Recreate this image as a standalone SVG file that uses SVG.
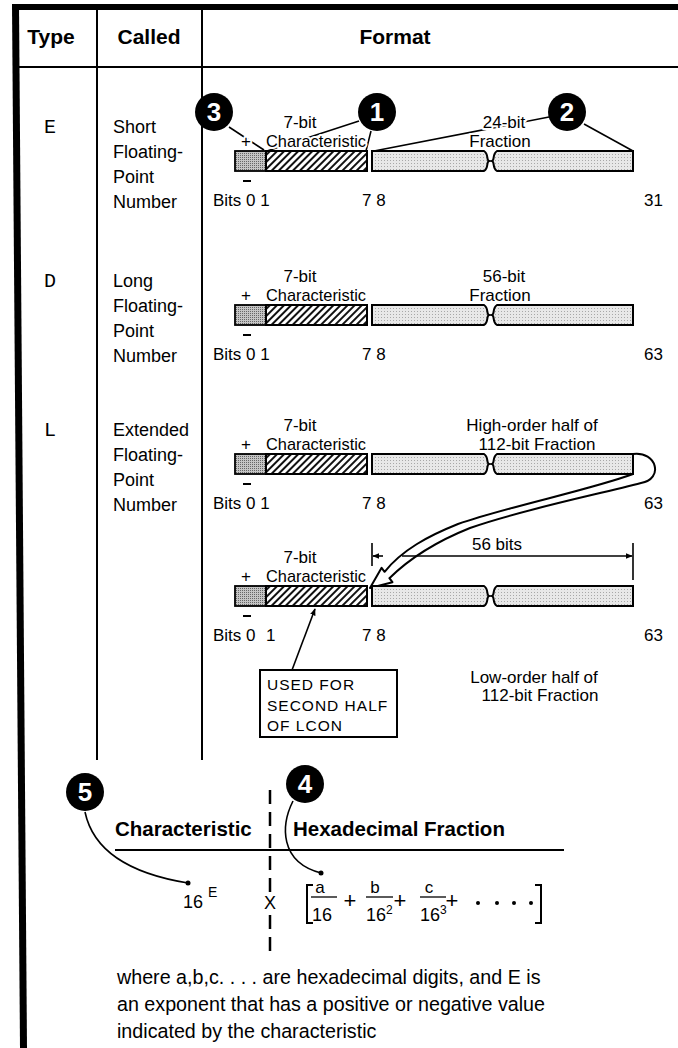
<svg xmlns="http://www.w3.org/2000/svg" xmlns:xlink="http://www.w3.org/1999/xlink" width="678" height="1048" viewBox="0 0 678 1048">
<style>
text{font-family:"Liberation Sans",Arial,sans-serif;fill:#000}
.h{font-weight:bold;font-size:21px;text-anchor:middle}
.ty{font-family:"Liberation Mono","Courier New",monospace;font-size:20px;text-anchor:middle}
.c{font-size:18px}
.l{font-size:17px}
.halo{paint-order:stroke;stroke:#fff;stroke-width:4px;stroke-linejoin:round}
.m{text-anchor:middle}
.e{text-anchor:end}
.rule{stroke:#000;stroke-width:2;fill:none}
.lead{stroke:#000;stroke-width:1.6;fill:none}
.num{font-family:"Liberation Sans Narrow","Liberation Sans",sans-serif;font-weight:bold;font-size:26px;fill:#fff;text-anchor:middle}
.b{font-weight:bold;font-size:20.5px}
.f{font-size:18px}
.box{font-size:15.5px;letter-spacing:1px}
.note{font-size:19.7px}
</style>
<defs>
<pattern id="hatch" patternUnits="userSpaceOnUse" width="5" height="5" patternTransform="rotate(45)">
<rect width="5" height="5" fill="#fff"/>
<rect width="2" height="5" fill="#111"/>
</pattern>
<pattern id="sd" patternUnits="userSpaceOnUse" width="2" height="2">
<rect width="2" height="2" fill="#c4c4c4"/>
<rect width="1" height="1" fill="#666"/>
</pattern>
<pattern id="ld" patternUnits="userSpaceOnUse" width="3" height="3">
<rect width="3" height="3" fill="#e8e8e8"/>
<rect width="1" height="1" fill="#a8a8a8"/>
</pattern>
<g id="bar">
<rect x="235" y="0" width="31" height="20" fill="url(#sd)" stroke="#000" stroke-width="1.8"/>
<rect x="266" y="0" width="101" height="20" fill="url(#hatch)" stroke="#000" stroke-width="2"/>
<path d="M372,0 H484 C489,3 486,9 489,10 C486,11 489,17 484,20 H372 Z" fill="url(#ld)" stroke="#000" stroke-width="2"/>
<path d="M497,0 H633 V20 H497 C492,17 495,11 492,10 C495,9 492,3 497,0 Z" fill="url(#ld)" stroke="#000" stroke-width="2"/>
<line x1="243" y1="30" x2="251" y2="30" stroke="#000" stroke-width="2"/>
</g>
<marker id="ah" viewBox="0 0 10 10" refX="9" refY="5" markerWidth="7" markerHeight="7" orient="auto-start-reverse" markerUnits="userSpaceOnUse">
<path d="M0,1 L10,5 L0,9 Z" fill="#000"/>
</marker>
</defs>
<rect width="678" height="1048" fill="#fff"/>

<g id="frame">
<rect x="12" y="4" width="666" height="6" fill="#000"/>
<polygon points="12,4 19,4 27,1048 20,1048" fill="#000"/>
<line class="rule" x1="18" y1="67" x2="678" y2="67"/>
<line class="rule" x1="97" y1="8" x2="97" y2="760"/>
<line class="rule" x1="202" y1="8" x2="202" y2="760"/>
<text class="h" x="51" y="44">Type</text>
<text class="h" x="149" y="44">Called</text>
<text class="h" x="395" y="44">Format</text>
</g>

<g id="connectors">
<line class="lead" x1="229" y1="127" x2="264" y2="150"/>
<line class="lead" x1="359" y1="121" x2="267" y2="151"/>
<line class="lead" x1="371" y1="131" x2="366" y2="151"/>
<line class="lead" x1="549" y1="117" x2="374" y2="151"/>
<line class="lead" x1="584" y1="124" x2="633" y2="151"/>
<line class="lead" x1="292" y1="670" x2="315" y2="609" marker-end="url(#ah)"/>
<path class="lead" d="M85,812 C92,845 120,872 188,883"/>
<circle cx="188" cy="883" r="2.5"/>
<path class="lead" d="M293,801 C281,825 279,862 321,873"/>
<circle cx="321" cy="873" r="2.5"/>
<path d="M633,454 C657,451 664,479 641,483 C600,494 520,510 470,528 C440,540 410,558 389.4,578.2 L392.4,582.2 L370,588 L381.6,567.8 L384.6,571.8 C402,550 428,536 458,524 C510,506 590,490 633,474 Z" fill="#fff" stroke="#000" stroke-width="2" stroke-linejoin="round"/>
</g>

<g id="row-e">
<text class="ty" x="50" y="133">E</text>
<text class="c" x="113" y="133">Short</text>
<text class="c" x="113" y="158">Floating-</text>
<text class="c" x="113" y="183">Point</text>
<text class="c" x="113" y="208">Number</text>
<use xlink:href="#bar" y="151"/>
<text class="l halo m" x="300" y="128">7-bit</text>
<text class="l halo m" x="246" y="147">+</text>
<text class="l halo" x="266" y="147" textLength="100" lengthAdjust="spacingAndGlyphs">Characteristic</text>
<text class="l halo m" x="504" y="128">24-bit</text>
<text class="l halo m" x="500" y="147">Fraction</text>
<text class="l" x="213" y="206">Bits 0 1</text>
<text class="l" x="362" y="206">7 8</text>
<text class="l e" x="663" y="206">31</text>
</g>

<g id="callout-3"><circle cx="214" cy="112" r="19"/><text class="num" x="214" y="121">3</text></g>
<g id="callout-1"><circle cx="377" cy="112" r="19"/><text class="num" x="377" y="121">1</text></g>
<g id="callout-2"><circle cx="567" cy="112" r="19"/><text class="num" x="567" y="121">2</text></g>

<g id="row-d">
<text class="ty" x="50" y="287">D</text>
<text class="c" x="113" y="287">Long</text>
<text class="c" x="113" y="312">Floating-</text>
<text class="c" x="113" y="337">Point</text>
<text class="c" x="113" y="362">Number</text>
<use xlink:href="#bar" y="305"/>
<text class="l m" x="300" y="282">7-bit</text>
<text class="l m" x="246" y="301">+</text>
<text class="l" x="266" y="301" textLength="100" lengthAdjust="spacingAndGlyphs">Characteristic</text>
<text class="l m" x="504" y="282">56-bit</text>
<text class="l m" x="500" y="301">Fraction</text>
<text class="l" x="213" y="360">Bits 0 1</text>
<text class="l" x="362" y="360">7 8</text>
<text class="l e" x="663" y="360">63</text>
</g>

<g id="row-l">
<text class="ty" x="50" y="436">L</text>
<text class="c" x="113" y="436">Extended</text>
<text class="c" x="113" y="461">Floating-</text>
<text class="c" x="113" y="486">Point</text>
<text class="c" x="113" y="511">Number</text>
<use xlink:href="#bar" y="454"/>
<text class="l m" x="300" y="431">7-bit</text>
<text class="l m" x="246" y="450">+</text>
<text class="l" x="266" y="450" textLength="100" lengthAdjust="spacingAndGlyphs">Characteristic</text>
<text class="l m" x="532" y="431">High-order half of</text>
<text class="l m" x="537" y="450">112-bit Fraction</text>
<text class="l" x="213" y="509">Bits 0 1</text>
<text class="l" x="362" y="509">7 8</text>
<text class="l e" x="663" y="509">63</text>
</g>

<g id="row-l2">
<use xlink:href="#bar" y="586"/>
<text class="l m" x="300" y="563">7-bit</text>
<text class="l m" x="246" y="582">+</text>
<text class="l" x="266" y="582" textLength="100" lengthAdjust="spacingAndGlyphs">Characteristic</text>
<line class="lead" x1="372" y1="543" x2="372" y2="566"/>
<line class="lead" x1="633" y1="543" x2="633" y2="580"/>
<line class="lead" x1="383" y1="556" x2="373" y2="556" marker-end="url(#ah)"/>
<line class="lead" x1="402" y1="556" x2="632" y2="556" marker-end="url(#ah)"/>
<text class="l m" x="497" y="550">56 bits</text>
<text class="l" x="213" y="641">Bits 0</text>
<text class="l" x="266" y="641">1</text>
<text class="l" x="362" y="641">7 8</text>
<text class="l e" x="663" y="641">63</text>
<text class="l m" x="534" y="683">Low-order half of</text>
<text class="l m" x="540" y="701">112-bit Fraction</text>
</g>

<g id="lcon-note">
<rect x="260" y="670" width="137" height="67" fill="#fff" stroke="#000" stroke-width="2"/>
<text class="box" x="267" y="690">USED FOR</text>
<text class="box" x="267" y="711">SECOND HALF</text>
<text class="box" x="267" y="731">OF LCON</text>
</g>

<g id="formula">
<line x1="270" y1="790" x2="270" y2="893" stroke="#000" stroke-width="2.5" stroke-dasharray="14,8"/>
<line x1="270" y1="915" x2="270" y2="956" stroke="#000" stroke-width="2.5" stroke-dasharray="14,8"/>
<line class="rule" x1="115" y1="850" x2="564" y2="850"/>
<text class="b" x="115" y="836">Characteristic</text>
<text class="b" x="293" y="836">Hexadecimal Fraction</text>
<text class="f" x="183" y="908">16</text>
<text style="font-size:14px" x="208" y="897">E</text>
<text class="f m" x="270" y="909">X</text>
<path class="rule" d="M313,885 H307 V923 H313"/>
<path class="rule" d="M535,885 H541 V923 H535"/>
<text class="l m" x="320" y="893">a</text>
<line x1="311" y1="897" x2="337" y2="897" stroke="#000" stroke-width="1.3"/>
<text class="f" x="312" y="921">16</text>
<text style="font-size:22px" class="m" x="350" y="908">+</text>
<text class="l m" x="375" y="893">b</text>
<line x1="366" y1="897" x2="393" y2="897" stroke="#000" stroke-width="1.3"/>
<text class="f" x="366" y="921">16</text>
<text style="font-size:12px" x="386" y="914">2</text>
<text style="font-size:22px" class="m" x="400" y="908">+</text>
<text class="l m" x="429" y="893">c</text>
<line x1="420" y1="897" x2="446" y2="897" stroke="#000" stroke-width="1.3"/>
<text class="f" x="420" y="921">16</text>
<text style="font-size:12px" x="440" y="914">3</text>
<text style="font-size:22px" class="m" x="452" y="908">+</text>
<circle cx="478" cy="903" r="2"/>
<circle cx="497" cy="903" r="2"/>
<circle cx="514" cy="903" r="2"/>
<circle cx="531" cy="903" r="2"/>
</g>

<g id="callout-5"><circle cx="85" cy="792" r="19"/><text class="num" x="85" y="801">5</text></g>
<g id="callout-4"><circle cx="305" cy="784" r="19"/><text class="num" x="305" y="793">4</text></g>

<g id="explanation">
<text class="note" x="117" y="984">where a,b,c. . . . are hexadecimal digits, and E is</text>
<text class="note" x="117" y="1011">an exponent that has a positive or negative value</text>
<text class="note" x="117" y="1038">indicated by the characteristic</text>
</g>
</svg>
